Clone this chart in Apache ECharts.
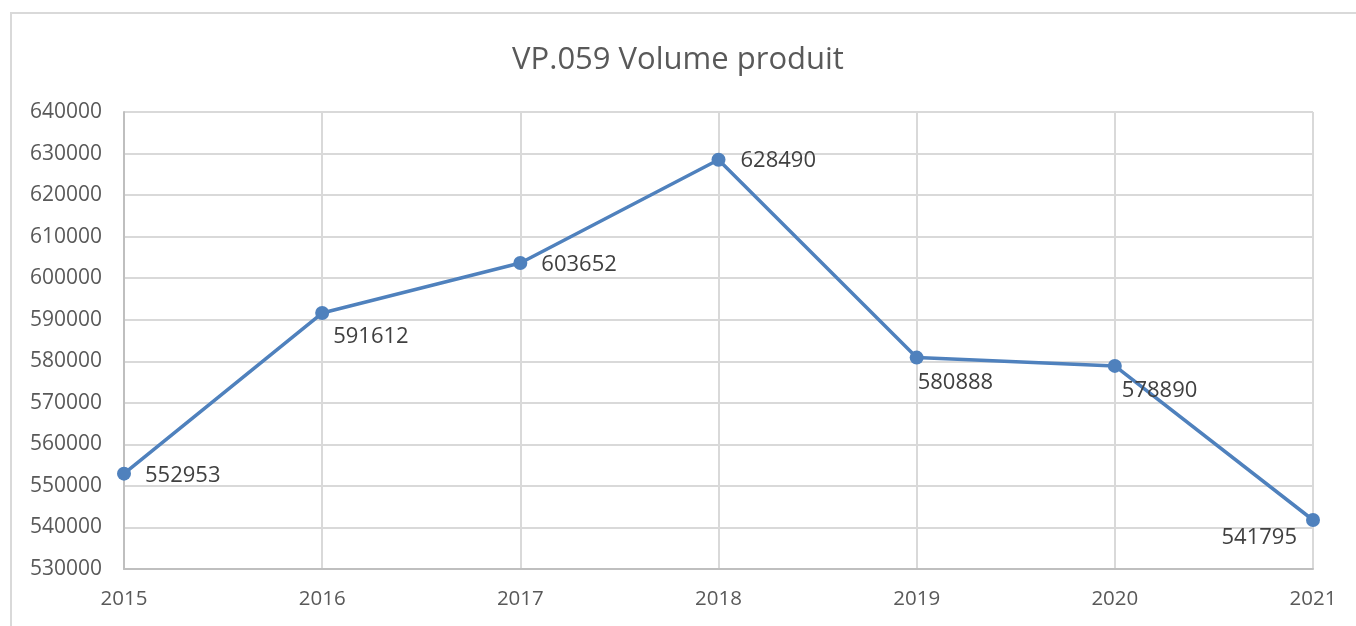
<!DOCTYPE html>
<html>
<head>
<meta charset="utf-8">
<script src="https://cdn.jsdelivr.net/npm/echarts@6/dist/echarts.min.js"></script>
<style>
  html, body { margin: 0; padding: 0; background: #fff; }
  #main { width: 1356px; height: 626px; }
</style>
</head>
<body>
<div id="main"></div>
<script>
var years = ['2015', '2016', '2017', '2018', '2019', '2020', '2021'];
var volumes = [552953, 591612, 603652, 628490, 580888, 578890, 541795];

// where each value label sits relative to its point
var labelAlign = ['left', 'left', 'left', 'left', 'left', 'left', 'right'];
var labelOffset = [[21, 2], [11, 24], [21, 2], [22, 1], [1, 25], [7, 25], [-16, 18]];

var chartDom = document.getElementById('main');
var myChart = echarts.init(chartDom);
var option;

var font = '"Open Sans", "Segoe UI", sans-serif';

var points = volumes.map(function (v, i) {
  return {
    value: v,
    label: { align: labelAlign[i], offset: labelOffset[i] }
  };
});

option = {
  backgroundColor: '#fff',
  animation: false,
  title: {
    text: 'VP.059 Volume produit',
    left: 'center',
    top: 40,
    textStyle: { fontFamily: font, fontSize: 31, fontWeight: 'normal', color: '#595959' }
  },
  graphic: [
    {
      type: 'rect',
      shape: { x: 11, y: 13, width: 1400, height: 700 },
      style: { fill: 'none', stroke: '#d9d9d9', lineWidth: 2 },
      silent: true
    }
  ],
  grid: { left: 124, right: 43, top: 112, bottom: 57 },
  xAxis: {
    type: 'category',
    data: years,
    boundaryGap: false,
    axisLine: { lineStyle: { color: '#bfbfbf', width: 2 } },
    axisTick: { show: false },
    axisLabel: { fontFamily: font, fontSize: 20.5, color: '#595959', margin: 20 },
    splitLine: { show: true, lineStyle: { color: '#d9d9d9', width: 2 } }
  },
  yAxis: {
    type: 'value',
    min: 530000,
    max: 640000,
    interval: 10000,
    axisLine: { show: true, lineStyle: { color: '#bfbfbf', width: 2 } },
    axisTick: { show: false },
    axisLabel: {
      fontFamily: font, fontSize: 21, color: '#595959', margin: 22,
      formatter: function (v) { return String(v); }
    },
    splitLine: { lineStyle: { color: '#d9d9d9', width: 2 } }
  },
  series: [
    {
      name: 'VP.059 Volume produit',
      type: 'line',
      data: points,
      symbol: 'circle',
      symbolSize: 14,
      itemStyle: { color: '#4f81bd' },
      lineStyle: { color: '#4f81bd', width: 3.5 },
      label: {
        show: true,
        position: 'inside',
        verticalAlign: 'middle',
        fontFamily: font,
        fontSize: 22,
        color: '#404040'
      }
    }
  ]
};

option && myChart.setOption(option);
</script>
</body>
</html>
